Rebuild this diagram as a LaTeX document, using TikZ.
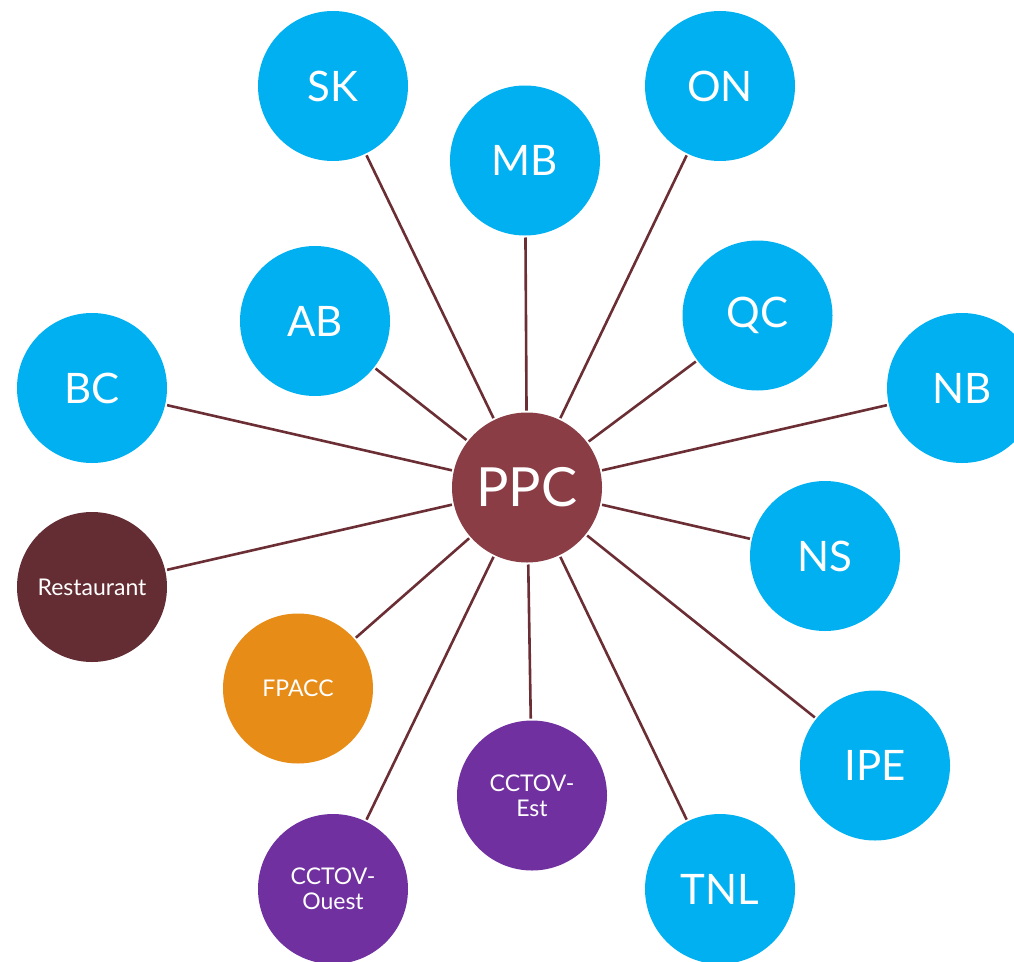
\documentclass[tikz,border=0pt]{standalone}
\usepackage{fontspec}
\setmainfont{Lato}
\definecolor{provblue}{HTML}{00B0F0}
\definecolor{ppcred}{HTML}{8A3D45}
\definecolor{restred}{HTML}{642D34}
\definecolor{fporange}{HTML}{E88C18}
\definecolor{ccpurple}{HTML}{7030A0}
\definecolor{linkcol}{HTML}{6B2E34}
\tikzset{
  bubble/.style={circle, minimum size=150pt, inner sep=0pt, outer sep=2pt, text=white, align=center},
  prov/.style={bubble, fill=provblue, font=\fontsize{42}{42}\selectfont},
  small/.style={bubble, font=\fontsize{23}{25}\selectfont},
  hub/.style={bubble, fill=ppcred, font=\fontsize{54}{54}\selectfont},
  link/.style={draw=linkcol, line width=2.6pt}
}
\begin{document}
\begin{tikzpicture}[x=1pt, y=-1pt]
\useasboundingbox (0,0) rectangle (1014,961);
\clip (0,0) rectangle (1014,961);
\node[hub] (ppc) at (527,487.5) {PPC};
\node[prov] (sk) at (333,86) {SK};
\node[prov] (mb) at (525,160.5) {MB};
\node[prov] (on) at (720,86) {ON};
\node[prov] (ab) at (315,321) {AB};
\node[prov] (qc) at (757.5,315.5) {QC};
\node[prov] (bc) at (92,388) {BC};
\node[prov] (nb) at (962,388) {NB};
\node[prov] (ns) at (825,556) {NS};
\node[prov] (ipe) at (875,765.5) {IPE};
\node[prov] (tnl) at (720,889) {TNL};
\node[small, fill=restred] (rest) at (92,587) {Restaurant};
\node[small, fill=fporange] (fpacc) at (298,688.5) {FPACC};
\node[small, fill=ccpurple] (est) at (532,795.5) {CCTOV-\\Est};
\node[small, fill=ccpurple] (ouest) at (333,889) {CCTOV-\\Ouest};
\foreach \n in {sk,mb,on,ab,qc,bc,nb,ns,ipe,tnl,rest,fpacc,est,ouest}
  \draw[link] (ppc) -- (\n);
\end{tikzpicture}
\end{document}
